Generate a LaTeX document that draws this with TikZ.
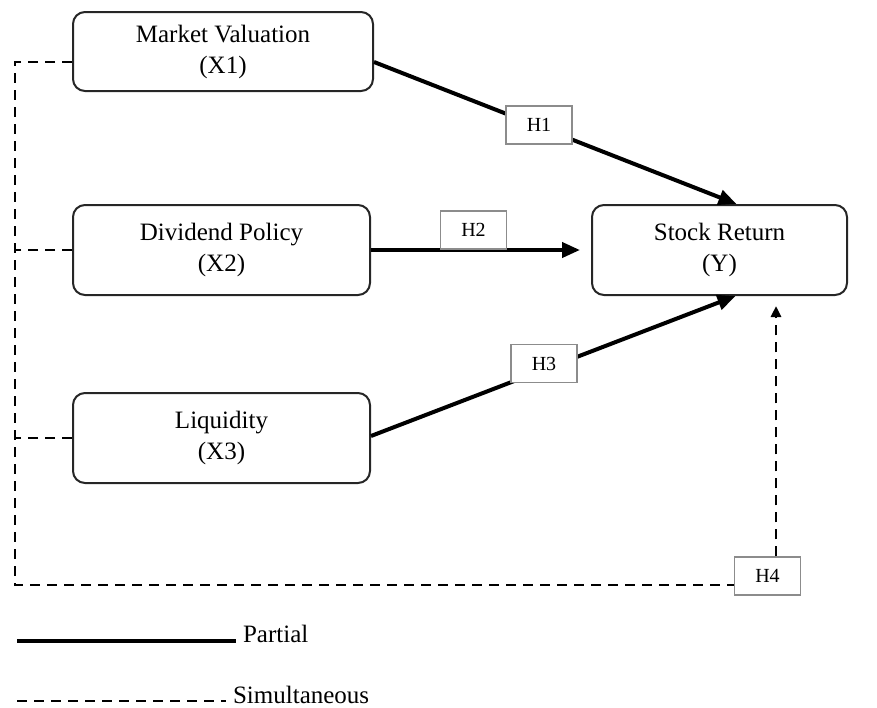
\documentclass[tikz,border=0pt]{standalone}
\usepackage{fontspec}
\setmainfont{Liberation Serif}
\usetikzlibrary{arrows.meta}

\begin{document}
\begin{tikzpicture}[x=0.5pt, y=-0.5pt,
  varbox/.style={draw=black!85, line width=1pt, rounded corners=6pt, align=center,
    font=\fontsize{12.5}{15.5}\selectfont, minimum width=148.5pt, minimum height=45pt},
  hypbox/.style={draw=black!45, line width=0.6pt, fill=white,
    font=\fontsize{10}{12}\selectfont, minimum width=33pt, minimum height=19pt, inner sep=0pt},
  partial/.style={line width=2pt, -{Triangle[length=9pt, width=7.5pt]}},
  simul/.style={line width=1.4pt, dash pattern=on 5pt off 3.5pt},
  legtext/.style={font=\fontsize{12.5}{15}\selectfont, anchor=west}]

  \useasboundingbox (0,0) rectangle (877,707);

  % Variables
  \node[varbox, minimum width=150pt, minimum height=39.5pt] (mv) at (223,51.5) {Market Valuation\\(X1)};
  \node[varbox] (dp) at (221.5,250) {Dividend Policy\\(X2)};
  \node[varbox] (lq) at (221.5,438) {Liquidity\\(X3)};
  \node[varbox, minimum width=127.5pt] (sr) at (719.5,250) {Stock Return\\(Y)};

  % Partial effects
  \draw[partial] ([yshift=-5.25pt]mv.east) -- ([xshift=8.5pt]sr.north);
  \draw[partial, shorten >=5.5pt] (dp.east) -- (sr.west);
  \draw[partial] ([yshift=1pt]lq.east) -- ([xshift=8pt]sr.south);

  % Hypotheses
  \node[hypbox] (h1) at (539,125) {H1};
  \node[hypbox] (h2) at (473.5,230) {H2};
  \node[hypbox] (h3) at (544,363.5) {H3};
  \node[hypbox] (h4) at (767.5,576) {H4};

  % Simultaneous effect
  \coordinate (bus) at (15,585);
  \draw[simul] ([yshift=-5.25pt]mv.west) -| (bus) -- (bus -| h4.west);
  \draw[simul] (dp.west) -- (dp.west -| bus);
  \draw[simul] (lq.west) -- (lq.west -| bus);
  \coordinate (h4top) at ([xshift=4.25pt]h4.north);
  \draw[simul, -{Triangle[length=5.5pt, width=5pt]}, shorten >=5pt] (h4top) -- (h4top |- sr.south);

  % Legend
  \node[legtext] (lgpartial) at (236,634) {Partial};
  \node[legtext] (lgsimul) at (226,695) {Simultaneous};
  \coordinate (lp) at (17,641);
  \coordinate (ls) at (17,701);
  \draw[line width=2pt] (lp) -- (lp -| lgpartial.west);
  \draw[simul] (ls) -- (ls -| lgsimul.west);
\end{tikzpicture}
\end{document}
